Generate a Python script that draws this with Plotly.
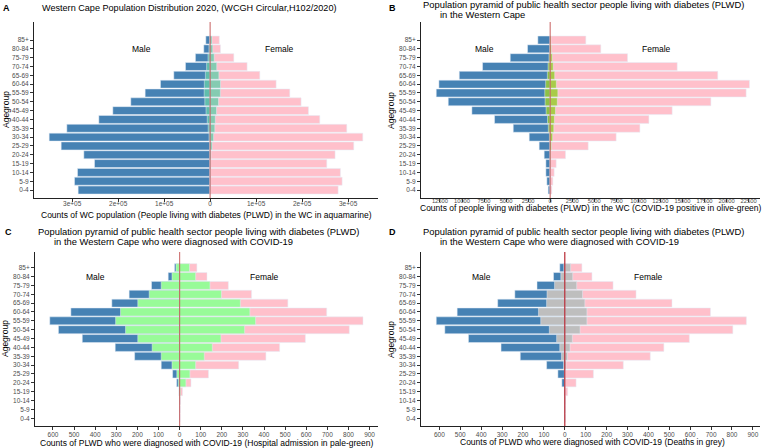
import plotly.graph_objects as go

W, H = 765, 448
FONT = "Liberation Sans, Arial, sans-serif"

ages = ["0-4", "5-9", "10-14", "15-19", "20-24", "25-29", "30-34", "35-39", "40-44",
        "45-49", "50-54", "55-59", "60-64", "65-69", "70-74", "75-79", "80-84", "85+"]

# Panel A: Western Cape population 2020
pop_male = [287000, 294900, 288400, 251400, 274600, 323900, 350000, 311600, 242000,
            211600, 172500, 141300, 108000, 79000, 53600, 32000, 13800, 9400]
pop_female = [278300, 287000, 283300, 253600, 271700, 312300, 331900, 297100, 238400,
              213800, 197800, 173200, 143500, 108000, 80400, 51500, 22500, 20000]

# Panel B: people living with diabetes (PLWD)
plwd_male = [230, 380, 490, 490, 680, 1250, 2380, 4190, 6310,
             8880, 11560, 12920, 12620, 10310, 7670, 4530, 2570, 1400]
plwd_female = [190, 300, 450, 680, 1740, 4310, 7480, 10170, 11190,
               13830, 18220, 22220, 22600, 19000, 14400, 8770, 5740, 4040]

# Panels C/D: PLWD diagnosed with COVID-19
covid_male = [0, 0, 0, 3, 14, 33, 87, 213, 305, 461, 574, 615, 515, 321, 239, 133, 54, 24]
covid_female = [0, 1, 3, 14, 54, 137, 280, 409, 474, 596, 804, 869, 697, 513, 341, 231, 130, 82]

# Hospital admissions
hosp_male = [0, 0, 0, 1, 6, 13, 36, 87, 130, 198, 256, 303, 280, 198, 144, 87, 36, 17]
hosp_female = [0, 0, 1, 4, 30, 49, 76, 117, 155, 196, 308, 360, 333, 288, 198, 144, 76, 47]

# Deaths
death_male = [0, 0, 0, 0, 0, 2, 6, 16, 24, 39, 74, 115, 126, 87, 85, 49, 19, 5]
death_female = [0, 0, 0, 0, 0, 1, 6, 13, 25, 36, 73, 106, 106, 96, 85, 57, 38, 28]

tick_a = [-300000, -200000, -100000, 0, 100000, 200000, 300000]
tick_a_text = ["3e+05", "2e+05", "1e+05", "0", "1e+05", "2e+05", "3e+05"]
tick_b = list(range(-12500, 22501, 2500))
tick_b_text = [str(abs(v)) for v in tick_b]
tick_cd = list(range(-600, 901, 100))
tick_cd_text = [str(abs(v)) for v in tick_cd]

BLUE = "#4682B4"
PINK = "#FFC0CB"

def px(x):
    return x / W

def py(y):
    return 1 - y / H

fig = go.Figure()

panels = [
    ("", pop_male, pop_female, plwd_male, plwd_female, "rgba(102,205,170,0.8)"),
    ("2", plwd_male, plwd_female, covid_male, covid_female, "rgba(154,205,50,0.85)"),
    ("3", covid_male, covid_female, hosp_male, hosp_female, "#98FB98"),
    ("4", covid_male, covid_female, death_male, death_female, "#BEBEBE"),
]

for suf, m, f, om, of, oc in panels:
    xa, ya = "x" + suf, "y" + suf
    fig.add_trace(go.Bar(y=ages, x=[-v for v in m], orientation="h", marker_color=BLUE,
                         width=0.9, xaxis=xa, yaxis=ya, showlegend=False))
    fig.add_trace(go.Bar(y=ages, x=f, orientation="h", marker_color=PINK,
                         width=0.9, xaxis=xa, yaxis=ya, showlegend=False))
    fig.add_trace(go.Bar(y=ages, x=[-v for v in om], orientation="h", marker_color=oc,
                         width=0.9, xaxis=xa, yaxis=ya, showlegend=False))
    fig.add_trace(go.Bar(y=ages, x=of, orientation="h", marker_color=oc,
                         width=0.9, xaxis=xa, yaxis=ya, showlegend=False))

def xaxis(domain, rng, tv, tt, anchor, fs=6.5, so=0):
    return dict(domain=domain, range=rng, tickvals=tv, ticktext=tt, anchor=anchor,
                showline=True, linecolor="#222", linewidth=1, ticks="outside", ticklen=3,
                tickcolor="#333", tickwidth=1, tickfont=dict(size=fs, color="#4D4D4D", family=FONT),
                ticklabelstandoff=so,
                showgrid=False, zeroline=False, automargin=False, fixedrange=True)

def yaxis(domain, rng, anchor):
    return dict(domain=domain, range=rng, type="category", categoryorder="array",
                categoryarray=ages, anchor=anchor,
                showline=True, linecolor="#222", linewidth=1, ticks="outside", ticklen=3,
                tickcolor="#333", tickwidth=1, tickfont=dict(size=6.5, color="#4D4D4D", family=FONT),
                showgrid=False, zeroline=False, automargin=False, fixedrange=True)

top_dom = [py(198), py(22)]
bot_dom = [py(426), py(252)]
left_dom_a = [px(34), px(378)]
left_dom_c = [px(35), px(378)]
right_dom = [px(421), px(760)]

fig.update_layout(
    width=W, height=H, margin=dict(l=0, r=0, t=0, b=0),
    paper_bgcolor="white", plot_bgcolor="white", barmode="overlay", bargap=0.1,
    font=dict(family=FONT, color="black"),
    xaxis=xaxis(left_dom_a, [-383000, 365000], tick_a, tick_a_text, "y", so=-4),
    yaxis=yaxis(top_dom, [-0.9, 19.04], "x"),
    xaxis2=xaxis(right_dom, [-14650, 23790], tick_b, tick_b_text, "y2", fs=5.8, so=-6),
    yaxis2=yaxis(top_dom, [-0.9, 19.04], "x2"),
    xaxis3=xaxis(left_dom_c, [-685, 940], tick_cd, tick_cd_text, "y3", so=-1),
    yaxis3=yaxis(bot_dom, [-0.87, 18.77], "x3"),
    xaxis4=xaxis(right_dom, [-688, 934], tick_cd, tick_cd_text, "y4", so=-1),
    yaxis4=yaxis(bot_dom, [-0.87, 18.77], "x4"),
)

# zero lines
for suf, col in [("", "rgba(178,34,34,0.6)"), ("2", "rgba(178,34,34,0.6)"),
                 ("3", "rgba(178,34,34,0.6)"), ("4", "rgba(180,30,40,0.95)")]:
    fig.add_shape(type="line", x0=0, x1=0, y0=0, y1=1, xref="x" + suf,
                  yref=("y" + suf) + " domain", line=dict(color=col, width=1.2))

ann = []

def text(x, y, s, size=8, xanchor="left", bold=False, angle=0):
    ann.append(dict(x=px(x), y=py(y), xref="paper", yref="paper", text=("<b>%s</b>" % s) if bold else s,
                    showarrow=False, xanchor=xanchor, yanchor="middle", textangle=angle,
                    font=dict(size=size, color="black", family=FONT)))

# panel letters
text(1, 8, "A", 9, bold=True)
text(387, 8, "B", 9, bold=True)
text(3, 232, "C", 9, bold=True)
text(387, 232, "D", 9, bold=True)

# titles
TS = 9.4
text(40, 8, "Western Cape Population Distribution 2020, (WCGH Circular,H102/2020)", 9.1)
text(421, 4.5, "Population pyramid of public health sector people living with diabetes (PLWD)", TS)
text(438, 14.5, "in the Western Cape", TS)
text(36, 231.5, "Population pyramid of public health sector people living with diabetes (PLWD)", TS)
text(52, 241.5, "in the Western Cape who were diagnosed with COVID-19", TS)
text(421, 231.5, "Population pyramid of public health sector people living with diabetes (PLWD)", TS)
text(438, 241.5, "in the Western Cape who were diagnosed with COVID-19", TS)

# axis titles
AS = 8.5
text(206, 215, "Counts of WC population (People living with diabetes (PLWD) in the WC in aquamarine)", AS, "center")
text(591, 208, "Counts of people living with diabetes (PLWD) in the WC (COVID-19 positive in olive-green)", AS, "center")
text(207, 443, "Counts of PLWD who were diagnosed with COVID-19 (Hospital admission in pale-green)", AS, "center")
text(592, 441.5, "Counts of PLWD who were diagnosed with COVID-19 (Deaths in grey)", AS, "center")
text(6, 110, "Agegroup", AS, "center", angle=-90)
text(391, 110, "Agegroup", AS, "center", angle=-90)
text(5, 339, "Agegroup", AS, "center", angle=-90)
text(391, 339, "Agegroup", AS, "center", angle=-90)

fig.update_layout(annotations=ann)

# Male / Female labels in data coordinates
for suf, xm, xf in [("", -150000, 150000), ("2", -7500, 12000), ("3", -400, 400), ("4", -400, 400)]:
    for xv, s in [(xm, "Male"), (xf, "Female")]:
        fig.add_annotation(x=xv, y="80-84", xref="x" + suf, yref="y" + suf, text=s,
                           showarrow=False, font=dict(size=8.5, color="black", family=FONT))

fig.write_html("out.html", config={"displayModeBar": False},
               post_script="document.body.style.margin='0px';")
